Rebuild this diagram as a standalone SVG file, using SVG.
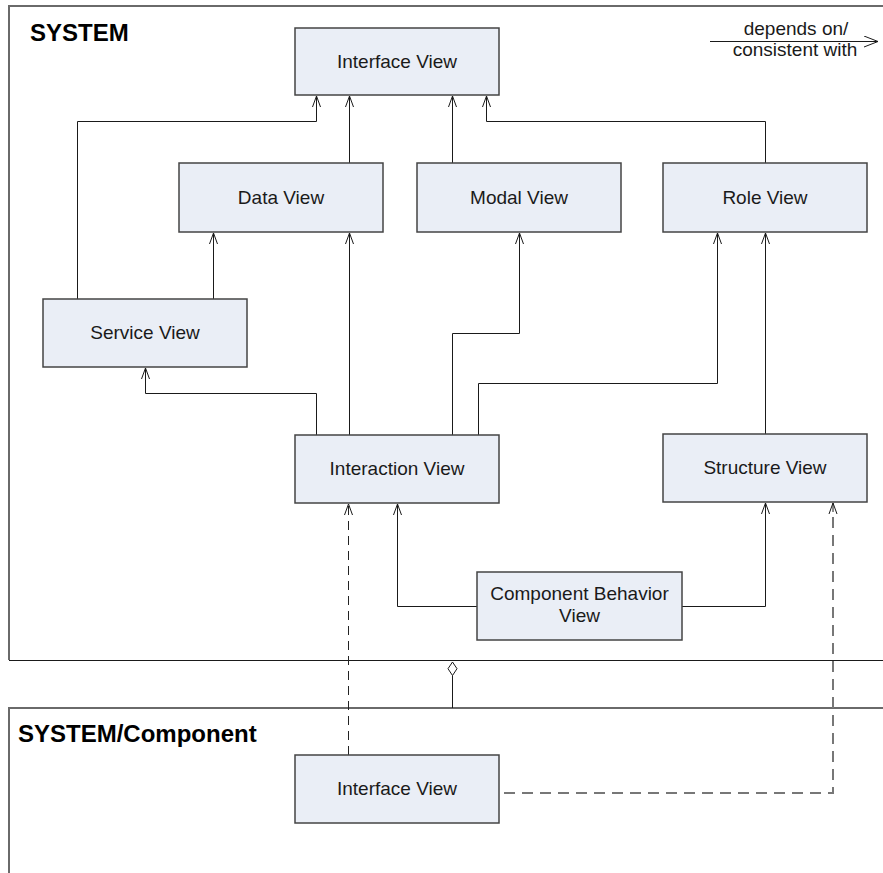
<svg xmlns="http://www.w3.org/2000/svg" width="883" height="873" viewBox="0 0 883 873">
  <style>
    .frame { fill: none; stroke: #6a6a6a; stroke-width: 2; }
    .frame-base { fill: none; stroke: #1a1a1a; stroke-width: 1; }
    .title { font-family: "Liberation Sans", Arial, sans-serif; font-size: 24px; font-weight: bold; fill: #000; }
    .box { fill: #eaeef6; stroke: #444; stroke-width: 1.5; }
    .label { font-family: "Liberation Sans", Arial, sans-serif; font-size: 19px; fill: #1a1a1a; text-anchor: middle; }
    .link { fill: none; stroke: #1a1a1a; stroke-width: 1; marker-end: url(#open); }
    .dash { fill: none; stroke: #222; stroke-width: 1; stroke-dasharray: 9 6; marker-end: url(#open); }
    .dash-grey { fill: none; stroke: #777; stroke-width: 2; stroke-dasharray: 11 7; }
  </style>
  <defs>
    <marker id="open" markerUnits="userSpaceOnUse" viewBox="0 0 12 10" refX="11" refY="5" markerWidth="12" markerHeight="10" orient="auto">
      <path d="M0,1 L11,5 L0,9" fill="none" stroke="#1a1a1a" stroke-width="1"/>
    </marker>
    <marker id="open-big" markerUnits="userSpaceOnUse" viewBox="0 0 16 12" refX="15" refY="6" markerWidth="16" markerHeight="12" orient="auto">
      <path d="M1,0.5 L15,6 L1,11.5" fill="none" stroke="#1a1a1a" stroke-width="1"/>
    </marker>
  </defs>

  <!-- package frames -->
  <g id="frame-system">
    <path class="frame" d="M884,6 H9 V660"/>
    <path class="frame-base" d="M9,660.5 H884"/>
    <text class="title" x="30" y="41">SYSTEM</text>
  </g>
  <g id="frame-component">
    <path class="frame" d="M884,708 H9 V874"/>
    <text class="title" x="18" y="742">SYSTEM/Component</text>
  </g>

  <!-- legend -->
  <g id="legend">
    <line x1="710" y1="41.5" x2="878" y2="41.5" stroke="#1a1a1a" stroke-width="1" marker-end="url(#open-big)"/>
    <text class="label" x="796" y="35">depends on/</text>
    <text class="label" x="795" y="56">consistent with</text>
  </g>

  <!-- connectors -->
  <g id="connectors">
    <path class="link" d="M77.5,299 V121.5 H316.5 V96"/>
    <path class="link" d="M349.5,163 V96"/>
    <path class="link" d="M452.5,163 V96"/>
    <path class="link" d="M765.5,163 V121.5 H486.5 V96"/>
    <path class="link" d="M213.5,299 V233"/>
    <path class="link" d="M349.5,435 V233"/>
    <path class="link" d="M316.5,435 V393.5 H145.5 V368"/>
    <path class="link" d="M452.5,435 V333.5 H519.5 V233"/>
    <path class="link" d="M478.5,435 V383.5 H717.5 V233"/>
    <path class="link" d="M765.5,434 V233"/>
    <path class="link" d="M477,606.5 H397.5 V504"/>
    <path class="link" d="M682,606.5 H765.5 V503"/>
    <path class="dash" d="M348.5,755 V504"/>
    <path class="dash-grey" d="M504,793 H833 V514"/>
    <path d="M833,512 V503" fill="none" stroke="#1a1a1a" stroke-width="1" marker-end="url(#open)"/>
    <!-- aggregation: component part of system -->
    <path d="M452.5,708 V675.5" fill="none" stroke="#1a1a1a" stroke-width="1"/>
    <path d="M452.5,662 L457,668.7 L452.5,675.5 L448,668.7 Z" fill="#fff" stroke="#1a1a1a" stroke-width="1"/>
  </g>

  <!-- views -->
  <g id="interface-view">
    <rect class="box" x="295" y="28" width="204" height="67"/>
    <text class="label" x="397" y="67.5">Interface View</text>
  </g>
  <g id="data-view">
    <rect class="box" x="179" y="163" width="204" height="69"/>
    <text class="label" x="281" y="203.5">Data View</text>
  </g>
  <g id="modal-view">
    <rect class="box" x="417" y="163" width="204" height="69"/>
    <text class="label" x="519" y="203.5">Modal View</text>
  </g>
  <g id="role-view">
    <rect class="box" x="663" y="163" width="204" height="69"/>
    <text class="label" x="765" y="203.5">Role View</text>
  </g>
  <g id="service-view">
    <rect class="box" x="43" y="299" width="204" height="68"/>
    <text class="label" x="145" y="339">Service View</text>
  </g>
  <g id="interaction-view">
    <rect class="box" x="295" y="435" width="204" height="68"/>
    <text class="label" x="397" y="475">Interaction View</text>
  </g>
  <g id="structure-view">
    <rect class="box" x="663" y="434" width="204" height="68"/>
    <text class="label" x="765" y="474">Structure View</text>
  </g>
  <g id="component-behavior-view">
    <rect class="box" x="477" y="572" width="205" height="68"/>
    <text class="label" x="579.5" y="600">Component Behavior</text>
    <text class="label" x="579.5" y="622">View</text>
  </g>
  <g id="component-interface-view">
    <rect class="box" x="295" y="755" width="204" height="68"/>
    <text class="label" x="397" y="795">Interface View</text>
  </g>
</svg>
